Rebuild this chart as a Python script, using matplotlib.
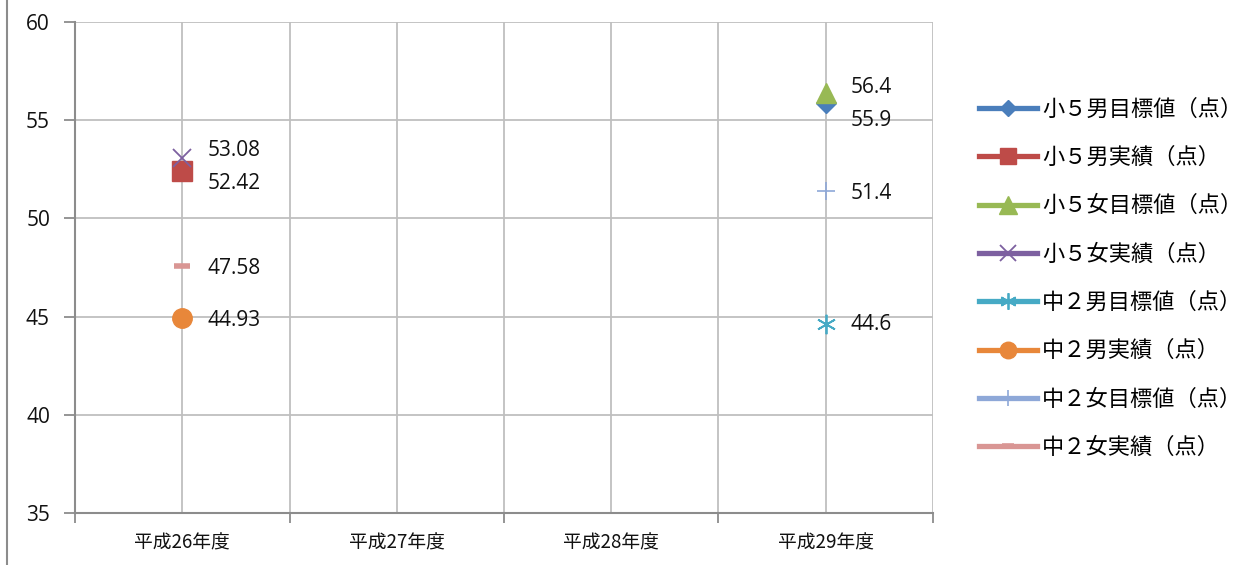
import matplotlib
matplotlib.use("Agg")
import matplotlib.pyplot as plt
from matplotlib.lines import Line2D
from matplotlib.ticker import MultipleLocator

plt.rcParams['font.family'] = ['Noto Sans CJK JP', 'DejaVu Sans']

# data
years = ['平成26年度', '平成27年度', '平成28年度', '平成29年度']
series_names = ['小５男目標値（点）', '小５男実績（点）', '小５女目標値（点）', '小５女実績（点）',
                '中２男目標値（点）', '中２男実績（点）', '中２女目標値（点）', '中２女実績（点）']
# one value per series, placed in the year given by series_year
series_year = [3, 0, 3, 0, 3, 0, 3, 0]
series_values = [55.9, 52.42, 56.4, 53.08, 44.6, 44.93, 51.4, 47.58]
series_labels = ['55.9', '52.42', '56.4', '53.08', '44.6', '44.93', '51.4', '47.58']

# styles
colors = ['#4A7EBB', '#BE4B48', '#98B954', '#7D60A0', '#46AAC5', '#E8873A', '#8EA8D8', '#D99694']
markers = ['D', 's', '^', 'x', (6, 2, 0), 'o', '+', '_']
msizes = [10, 14, 15, 13, 14, 14, 13, 11]
mew = [1, 1, 1, 1.3, 1.3, 1, 1.2, 4]
label_dy = [-13, -9, 4, 5, 0, -2, -2, -2]   # points, to keep labels apart like the original

fig = plt.figure(figsize=(12.43, 5.65), dpi=100)
ax = fig.add_axes([75 / 1243, 52 / 565, 858 / 1243, 491 / 565])

for i, name in enumerate(series_names):
    x = series_year[i]
    y = series_values[i]
    ax.plot([x], [y], linestyle='-', color=colors[i], marker=markers[i],
            markersize=msizes[i], markeredgewidth=mew[i], linewidth=3.8,
            markeredgecolor=colors[i], label=name, zorder=5)
    ax.annotate(series_labels[i], (x, y), xytext=(18, label_dy[i]),
                textcoords='offset points', va='center', ha='left', fontsize=15,
                color='#111111', family=['Open Sans', 'DejaVu Sans'])

ax.set_xlim(-0.5, len(years) - 0.5)
ax.set_ylim(35, 60)
ax.yaxis.set_major_locator(MultipleLocator(5))
ax.set_xticks(range(len(years)))
ax.set_xticklabels(years, fontsize=13.5, color='#111111')
ax.set_xticks([i - 0.5 for i in range(len(years) + 1)], minor=True)

ax.grid(True, which='major', color='#BFBFBF', linewidth=1.3)
ax.grid(True, which='minor', axis='x', color='#BFBFBF', linewidth=1.3)
ax.tick_params(axis='x', which='major', length=0, pad=14)
ax.tick_params(axis='x', which='minor', length=7, color='#8C8C8C', width=1.3)
ax.tick_params(axis='y', length=8, color='#8C8C8C', width=1.3, labelsize=15,
               labelcolor='#111111', pad=10)
for lab in ax.get_yticklabels():
    lab.set_family(['Open Sans', 'DejaVu Sans'])

for side in ['top', 'right']:
    ax.spines[side].set_visible(False)
for side in ['left', 'bottom']:
    ax.spines[side].set_color('#8C8C8C')
    ax.spines[side].set_linewidth(1.5)

leg = ax.legend(loc='center left', bbox_to_anchor=(1.03, 0.478), frameon=False,
                fontsize=16, handlelength=2.6, labelspacing=1.14, handletextpad=0.25,
                numpoints=1, markerscale=0.85)

# left border of the chart area
fig.add_artist(Line2D([7 / 1243, 7 / 1243], [0, 1], color='#8C8C8C', linewidth=1.5,
                      transform=fig.transFigure))

fig.savefig('out.png', dpi=100)
